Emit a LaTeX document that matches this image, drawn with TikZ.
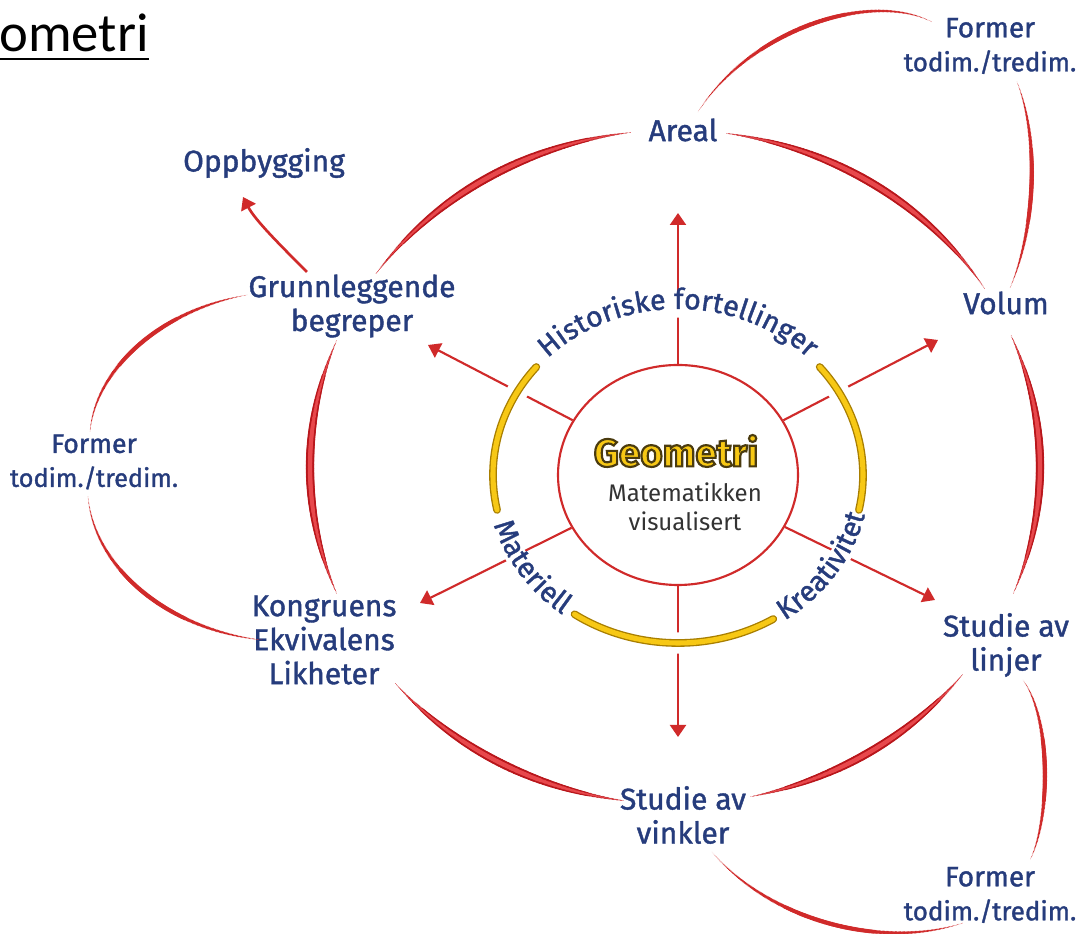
\documentclass[tikz,border=0pt]{standalone}
\usepackage{fontspec}
\setmainfont{Fira Sans}
\newfontfamily\labfont{Fira Sans}[FakeBold=1.3]
\newfontfamily\titlefont{Carlito}
\usetikzlibrary{decorations.markings,decorations.text,arrows.meta,shapes.geometric}
\definecolor{lblue}{HTML}{263C7C}
\definecolor{rdark}{HTML}{B8161B}
\definecolor{rlight}{HTML}{E8484C}
\definecolor{rarrow}{HTML}{D02A2A}
\definecolor{gyel}{HTML}{F7C815}
\definecolor{gedge}{HTML}{A87E00}
\definecolor{gtext}{HTML}{333333}
\pgfdeclareradialshading{innershadow}{\pgfpoint{0bp}{0bp}}{color(0bp)=(white); color(35bp)=(white); color(50bp)=(black!32)}
\newcommand\outlinedtext[1]{\special{pdf:literal direct 2 Tr 1.6 w 0.29 0.23 0.06 RG}#1\special{pdf:literal direct 0 Tr}}
\newcommand\formtxt[2]{{\fontsize{#1}{25}\selectfont Former}\\{\fontsize{#2}{24}\selectfont todim./tredim.}}
\begin{document}
\begin{tikzpicture}[x=0.75pt,y=0.75pt,
  lab/.style={text=lblue, font=\labfont\fontsize{22.5}{25.5}\selectfont, align=center, inner sep=0pt},
  core/.style={ellipse, minimum width=180pt, minimum height=165pt, inner sep=0pt, draw=rarrow, line width=1.6pt, shading=innershadow},
  arr/.style={draw=rarrow, line width=1.6pt, -{Triangle[length=9pt,width=12pt]}},
  taper/.style 2 args={decorate, decoration={markings,
    mark=between positions 0 and 1 step 1pt with {
      \pgfmathsetmacro\tfrac{(\pgfkeysvalueof{/pgf/decoration/mark info/distance from start})/(\pgfdecoratedpathlength)}
      \pgfmathsetmacro\tw{0.2+#1*sin(180*\tfrac)}
      \fill[#2] (0,0) circle[radius=\tw pt];
    }}},
  ringtext/.style={decorate, decoration={text along path, text align=center,
    text={|\labfont\fontsize{21.5}{21.5}\selectfont\color{lblue}|#1}}}
]
\useasboundingbox (0,0) rectangle (1076,934);

% ---- outer ring segments (centre 675,467; radii 365 x 337)
\foreach \a/\b in {97/145, 32/82, -22/23, -78/-38, 220/262, 158/202}{
  \path[shift={(675,467)}, taper={3}{rdark}] (\a:365 and 337) arc[start angle=\a, end angle=\b, x radius=365, y radius=337];
  \path[shift={(675,467)}, taper={1.5}{rlight}] (\a:365 and 337) arc[start angle=\a, end angle=\b, x radius=365, y radius=337];
}

% ---- labels
\node[anchor=base east, font=\titlefont\fontsize{41}{41}\selectfont, inner sep=0pt] (title) at (149,882) {ometri};
\coordinate (ulL) at (0,875);
\draw[line width=1.9pt] (ulL) -- (ulL -| title.east);

\node[lab] (areal) at (683,804) {Areal};
\node[lab] (oppb) at (264,771) {Oppbygging};
\node[lab] (grunn) at (352,628) {Grunnleggende\\begreper};
\node[lab] (volum) at (1006,631) {Volum};
\node[lab] (formTop) at (990,888) {\formtxt{21}{19.5}};
\node[lab] (formLeft) at (94,472) {\formtxt{20}{19}};
\node[lab] (kongr) at (324,294) {Kongruens\\Ekvivalens\\Likheter};
\node[lab] (linjer) at (1006,289) {Studie av\\linjer};
\node[lab] (vinkler) at (683,119) {Studie av\\vinkler};
\node[lab] (formBot) at (990,39) {\formtxt{21}{19.5}};

% ---- thin connectors
\coordinate (c1a) at (698,822); \coordinate (c1b) at (932,912);
\coordinate (c2a) at (1017,852); \coordinate (c2b) at (1010,646);
\coordinate (c3a) at (247,639); \coordinate (c3b) at (90,502);
\coordinate (c4a) at (88,437); \coordinate (c4b) at (262,294);
\coordinate (c5a) at (1023,254); \coordinate (c5b) at (1030,74);
\coordinate (c6a) at (712,82); \coordinate (c6b) at (963,11);
\path[taper={1.5}{rarrow}] (c1a) .. controls (750,904) and (870,944) .. (c1b);
\path[taper={1.5}{rarrow}] (c2a) .. controls (1040,794) and (1035,704) .. (c2b);
\path[taper={1.5}{rarrow}] (c3a) .. controls (160,624) and (95,564) .. (c3b);
\path[taper={1.5}{rarrow}] (c4a) .. controls (95,364) and (170,304) .. (c4b);
\path[taper={1.5}{rarrow}] (c5a) .. controls (1052,214) and (1050,114) .. (c5b);
\path[taper={1.5}{rarrow}] (c6a) .. controls (770,14) and (880,-16) .. (c6b);

\coordinate (ga) at (307,662); \coordinate (gb) at (243,737);
\draw[arr, line width=2pt] (ga) .. controls (280,689) and (255,714) .. (gb);

% ---- core
\node[core] (core) at (678,459) {};
\coordinate (aU) at (678,721);
\coordinate (aD) at (678,197);
\coordinate (aUL) at (428,589);
\coordinate (aUR) at (938,594);
\coordinate (aDL) at (420,331);
\coordinate (aDR) at (935,334);
\foreach \t in {aU,aD,aUL,aUR,aDL,aDR}{ \draw[arr] (core) -- (\t); }

% gap ring
\draw[white, line width=16pt] (678,459) ellipse [x radius=185, y radius=168];

% yellow arcs
\foreach \a/\b in {140/192, 236/301, -12/40}{
  \draw[shift={(678,459)}, gedge, line width=5.8pt, line cap=round] (\a:185 and 168) arc[start angle=\a, end angle=\b, x radius=185, y radius=168];
  \draw[shift={(678,459)}, gyel, line width=3.8pt, line cap=round] (\a:185 and 168) arc[start angle=\a, end angle=\b, x radius=185, y radius=168];
}

% ring texts
\path[shift={(678,459)}, ringtext={Historiske fortellinger}] (152:183 and 166) arc[start angle=152, end angle=28, x radius=183, y radius=166];
\path[shift={(678,459)}, ringtext={Materiell}] (188:192 and 175) arc[start angle=188, end angle=241, x radius=192, y radius=175];
\path[shift={(678,459)}, ringtext={Kreativitet}] (298:192 and 175) arc[start angle=298, end angle=353, x radius=192, y radius=175];

% centre texts
\node[inner sep=0pt, text=gyel, font=\bfseries\fontsize{29}{29}\selectfont] (geo) at (676,483) {\outlinedtext{Geometri}};
\node[inner sep=0pt, align=center, text=gtext, font=\fontsize{18}{22}\selectfont] (mat) at (685,427) {Matematikken\\visualisert};
\end{tikzpicture}
\end{document}
